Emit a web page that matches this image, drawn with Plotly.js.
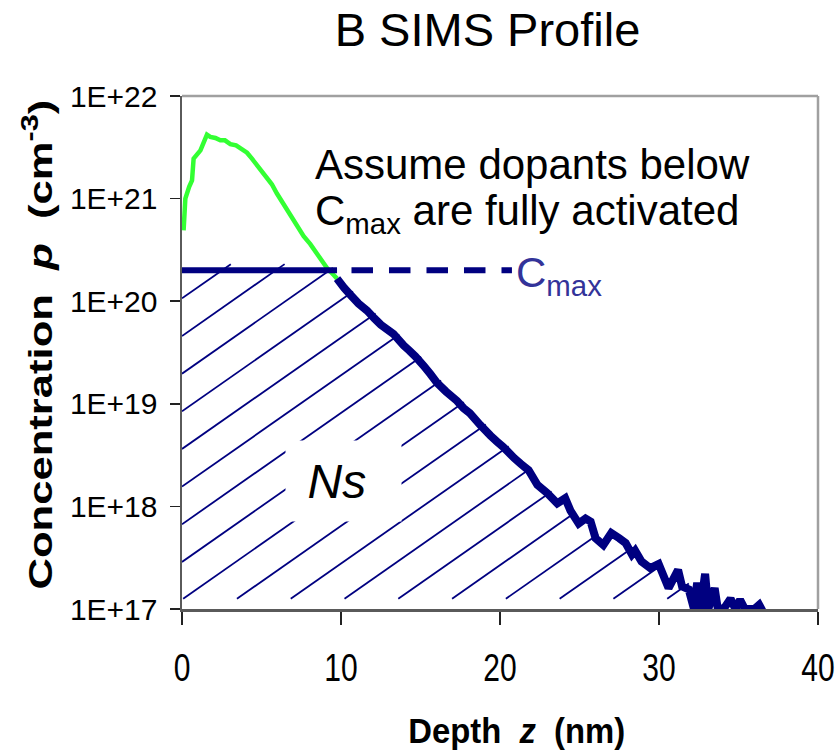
<!DOCTYPE html>
<html><head><meta charset="utf-8">
<script src="https://cdn.plot.ly/plotly-3.0.1.min.js"></script>
<style>html,body{margin:0;padding:0;background:#fff}</style>
</head><body><div id="chart" style="width:838px;height:752px"></div>
<script>
// ---- data ----
const depthNm = [0.1,0.21,0.45,0.63,0.73,1.16,1.57,1.78,2.1,2.41,2.7,3.04,3.4,3.67,4.09,4.4,4.72,5.0,5.35,5.65,5.97,6.3,6.6,7.13,7.65,8.07,8.49,9.12,9.54,
  9.75,10.2,10.6,11.1,11.64,12.1,12.5,13.3,13.94,14.3,14.67,15.2,15.62,16.04,16.6,17.29,17.7,18.1,18.76,19.4,19.8,20.2,20.9,21.3,21.8,22.35,22.96,23.6,24.1,24.43,24.95,25.38,25.7,26.01,26.5,27.0,27.5,27.9,28.3,28.5,28.9,29.45,29.98,30.6,31.2,31.45,31.87,32.2,32.4,32.6,32.9,33.1,33.5,33.7,34.1,34.5,34.8,35.1,35.4,36.0,36.3,36.6];
const boronConc = [4.9e20,1.0e21,1.3e21,1.5e21,2.45e21,2.95e21,4.2e21,4.0e21,3.9e21,3.7e21,3.7e21,3.4e21,3.3e21,3.1e21,2.8e21,2.45e21,2.1e21,1.85e21,1.6e21,1.38e21,1.12e21,9.3e20,7.8e20,5.9e20,4.3e20,3.6e20,2.9e20,2.1e20,1.8e20,
  1.66e20,1.35e20,1.15e20,9.5e19,8.1e19,6.8e19,5.9e19,4.8e19,3.7e19,3.3e19,2.9e19,2.35e19,1.95e19,1.6e19,1.32e19,1.07e19,9.1e18,8.1e18,6.2e18,4.9e18,4.3e18,3.8e18,2.95e18,2.6e18,2.25e18,1.62e18,1.35e18,1.07e18,1.2e18,9.1e17,6.8e17,7.6e17,7.1e17,4.9e17,4.2e17,5.5e17,4.9e17,4.4e17,3.4e17,3.7e17,2.9e17,2.5e17,2.75e17,1.6e17,2.4e17,1.66e17,1.55e17,1.0e17,1.8e17,1.0e17,2.2e17,1.0e17,1.6e17,1.0e17,1.02e17,1.26e17,1.0e17,1.23e17,1.0e17,1.0e17,1.1e17,0.9e17];
const cmaxValue = 2e20;
const cmaxSolidDepth = [0, 9.75];
const cmaxDashDepth = [10.66, 20.75];
const xTickVals = [0,10,20,30,40];
const xTickText = ['0','10','20','30','40'];
const yTickVals = [1e17,1e18,1e19,1e20,1e21,1e22];
const yTickText = ['1E+17','1E+18','1E+19','1E+20','1E+21','1E+22'];

// ---- style / layout constants ----
const W=838, H=752, L=182, R=818, T=96, B=609;
const NAVY='#000080', GREEN='#33ff33', CMAXBLUE='#333399';
const HATCH_SLOPE=0.1085, HATCH_STEP=0.367, HATCH_PHASE=20.028, HATCH_FLOOR=17.1, HATCH_OVER=0.06;
const px2x = p => (p-L)/(R-L);
const px2y = p => (B-p)/(B-T);

// split profile at the end of the Cmax solid line
const splitIdx = depthNm.findIndex(d => d >= cmaxSolidDepth[1]);
const greenX = depthNm.slice(0, splitIdx+1), greenY = boronConc.slice(0, splitIdx+1);
const navyX = depthNm.slice(splitIdx), navyY = boronConc.slice(splitIdx);

// hatch lines under min(profile, Cmax)
const logC = boronConc.map(Math.log10);
const logCmax = Math.log10(cmaxValue);
const zEnd = depthNm[depthNm.length-1];
function profAt(z){
  if (z <= depthNm[0]) return Infinity;
  for (let i=1;i<depthNm.length;i++){
    if (z <= depthNm[i]){
      const t=(z-depthNm[i-1])/(depthNm[i]-depthNm[i-1]);
      return logC[i-1]+t*(logC[i]-logC[i-1]);
    }
  }
  return -Infinity;
}
const topAt = z => Math.min(profAt(z), logCmax) + HATCH_OVER;
const hx=[], hy=[];
for (let k=-30;k<=5;k++){
  const c = HATCH_PHASE + k*HATCH_STEP;
  let z0, l0;
  if (c >= HATCH_FLOOR){ z0=0; l0=c; } else { z0=(HATCH_FLOOR-c)/HATCH_SLOPE; l0=HATCH_FLOOR; }
  if (z0 >= zEnd) continue;
  if (l0 >= topAt(z0)) continue;
  let z=z0;
  while (z < zEnd && c + HATCH_SLOPE*z < topAt(z)) z += 0.005;
  if (z - z0 < 0.05) continue;
  hx.push(z0, z, null); hy.push(Math.pow(10,l0), Math.pow(10,c+HATCH_SLOPE*z), null);
}

const traces = [
  {x:hx, y:hy, mode:'lines', line:{color:NAVY, width:1.8}, connectgaps:false, hoverinfo:'skip'},
  {x:greenX, y:greenY, mode:'lines', line:{color:GREEN, width:4.5}},
  {x:cmaxSolidDepth, y:cmaxSolidDepth.map(()=>cmaxValue), mode:'lines', line:{color:NAVY, width:6}},
  {x:cmaxDashDepth, y:cmaxDashDepth.map(()=>cmaxValue), mode:'lines', line:{color:NAVY, width:6, dash:'21.5px,16px'}},
  {x:navyX, y:navyY, mode:'lines', line:{color:NAVY, width:8, simplify:false}}
];

const ARIAL='Liberation Sans, Arial, sans-serif';
const layout = {
  width:W, height:H, showlegend:false,
  paper_bgcolor:'#fff', plot_bgcolor:'#fff',
  margin:{l:L, r:W-R, t:T, b:H-B, pad:0},
  title:{text:'B SIMS Profile', font:{family:ARIAL, size:47, color:'#000'},
    x:487.5/W, xref:'container', xanchor:'center', y:1-30/H, yref:'container', yanchor:'middle'},
  xaxis:{range:[0,40], tickvals:xTickVals, ticktext:xTickText, ticks:'outside', ticklen:13, tickwidth:1.5, tickcolor:'#222',
    showline:true, linecolor:'#5a5a5a', linewidth:3, showgrid:false, zeroline:false, ticklabeloverflow:'allow',
    tickfont:{family:ARIAL, size:39, color:'#000'}, ticklabelstandoff:9},
  yaxis:{type:'log', range:[17,22], tickvals:yTickVals, ticktext:yTickText, ticks:'outside', ticklen:10, tickwidth:1.5, tickcolor:'#222',
    showline:true, linecolor:'#5a5a5a', linewidth:2.5, showgrid:false, zeroline:false, ticklabeloverflow:'allow',
    tickfont:{family:ARIAL, size:30, color:'#000'}, ticklabelstandoff:6},
  shapes:[
    {type:'line', xref:'paper', yref:'paper', x0:0, x1:1, y0:1, y1:1, line:{color:'#a0a0a0', width:2.5}},
    {type:'line', xref:'paper', yref:'paper', x0:1, x1:1, y0:0, y1:1, line:{color:'#a0a0a0', width:2.5}}
  ],
  annotations:[
    {text:'Assume dopants below', xref:'paper', yref:'paper', x:px2x(313), y:px2y(164), xanchor:'left', yanchor:'middle', showarrow:false,
      font:{family:ARIAL, size:42, color:'#000'}},
    {text:'C<sub>max</sub> are fully activated', xref:'paper', yref:'paper', x:px2x(313), y:px2y(213), xanchor:'left', yanchor:'middle', showarrow:false,
      font:{family:ARIAL, size:42, color:'#000'}},
    {text:'C<sub>max</sub>', xref:'paper', yref:'paper', x:px2x(514), y:px2y(275), xanchor:'left', yanchor:'middle', showarrow:false,
      font:{family:ARIAL, size:42, color:CMAXBLUE}},
    {text:'<i>Ns</i>\u00a0', xref:'paper', yref:'paper', x:px2x(343.5), y:px2y(481), xanchor:'center', yanchor:'middle', showarrow:false,
      width:113, height:78, bgcolor:'#fff', font:{family:ARIAL, size:48, color:'#000'}},
    {text:'<b>Concentration\u00a0\u00a0<i>p</i>\u00a0\u00a0(cm<sup>-3</sup>)</b>', xref:'paper', yref:'paper', x:px2x(38), y:px2y(345),
      xanchor:'center', yanchor:'middle', textangle:-90, showarrow:false, font:{family:ARIAL, size:33, color:'#000'}},
    {text:'<b>Depth\u00a0\u00a0<i>z</i>\u00a0\u00a0(nm)</b>', xref:'paper', yref:'paper', x:px2x(516.5), y:px2y(730.5),
      xanchor:'center', yanchor:'middle', showarrow:false, font:{family:ARIAL, size:35, color:'#000'}}
  ]
};

function stretchText(el, target){
  const bb = el.getBBox();
  if (!bb.width) return;
  const s = target / bb.width, cx = bb.x + bb.width/2, cy = bb.y + bb.height/2;
  const prev = el.getAttribute('transform') || '';
  el.setAttribute('transform', (prev + ' translate(' + cx + ',' + cy + ') scale(' + s + ',1) translate(' + (-cx) + ',' + (-cy) + ')').trim());
}
function postProcess(){
  document.querySelectorAll('g.xtick > text').forEach(t => {
    if (t.dataset.squeezed) return;
    const bb = t.getBBox();
    stretchText(t, bb.width * 0.77);
    t.dataset.squeezed = '1';
  });
  const yt = document.querySelector('.annotation[data-index="4"] .annotation-text');
  const xt = document.querySelector('.annotation[data-index="5"] .annotation-text');
  if (yt && !yt.dataset.squeezed) { stretchText(yt, 490); yt.dataset.squeezed='1'; }
  if (xt && !xt.dataset.squeezed) { stretchText(xt, 217); xt.dataset.squeezed='1'; }
}
Plotly.newPlot('chart', traces, layout, {displayModeBar:false, staticPlot:true}).then(postProcess);
</script></body></html>
